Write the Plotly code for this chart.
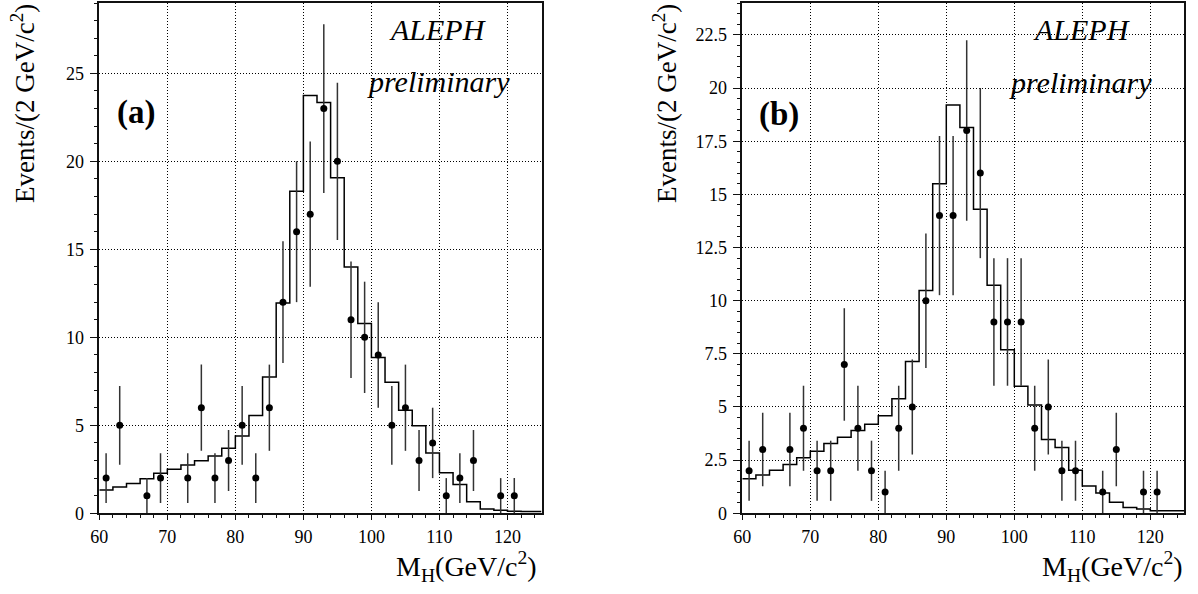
import numpy as np
import plotly.graph_objects as go

W, H = 1198, 594

# ---------------- data ----------------
bin_edges = [60, 62, 64, 66, 68, 70, 72, 74, 76, 78, 80, 82, 84, 86, 88, 90, 92, 94,
             96, 98, 100, 102, 104, 106, 108, 110, 112, 114, 116, 118, 120, 122, 124, 125]

mc_a = [1.32, 1.49, 1.70, 1.97, 2.27, 2.51, 2.74, 2.99, 3.25, 3.69, 4.39, 5.56, 7.75,
        11.95, 18.3, 23.75, 23.35, 19.07, 13.99, 10.78, 8.85, 7.45, 5.86, 4.97, 3.42,
        2.31, 1.64, 0.66, 0.25, 0.17, 0.11, 0.10, 0.10]

mc_b = [1.63, 1.80, 2.03, 2.30, 2.61, 2.92, 3.28, 3.58, 3.89, 4.19, 4.59, 5.39, 7.14,
        10.48, 15.5, 19.2, 18.14, 14.3, 10.72, 7.69, 5.97, 5.09, 3.47, 3.09, 2.02,
        1.28, 0.95, 0.52, 0.27, 0.20, 0.125, 0.125, 0.125]

data_centers = [61, 63, 65, 67, 69, 71, 73, 75, 77, 79, 81, 83, 85, 87, 89, 91, 93, 95,
                97, 99, 101, 103, 105, 107, 109, 111, 113, 115, 117, 119, 121]

data_a = [2, 5, 0, 1, 2, 0, 2, 6, 2, 3, 5, 2, 6, 12, 16, 17, 23, 20,
          11, 10, 9, 5, 6, 3, 4, 1, 2, 3, 0, 1, 1]

data_b = [2, 3, 0, 3, 4, 2, 2, 7, 4, 2, 1, 4, 5, 10, 14, 14, 18, 16,
          9, 9, 9, 4, 5, 2, 2, 0, 1, 3, 0, 1, 1]

# ---------------- helpers ----------------
def px(x):
    return x / W

def py(y):
    return 1 - y / H

SERIF = "Liberation Serif"
AXC = "#111111"

fig = go.Figure()

def add_panel(mc, counts, xa, ya):
    xs = list(bin_edges)
    ys = list(mc) + [mc[-1]]
    fig.add_trace(go.Scatter(x=xs, y=ys, mode="lines", line=dict(shape="hv", color="black", width=1.5),
                             xaxis=xa, yaxis=ya, showlegend=False, hoverinfo="skip"))
    cx = [c for c, n in zip(data_centers, counts) if n > 0]
    cy = [n for n in counts if n > 0]
    err = list(np.sqrt(cy))
    fig.add_trace(go.Scatter(x=cx, y=cy, mode="markers",
                             marker=dict(color="black", size=7),
                             error_y=dict(type="data", array=err, visible=True, width=0,
                                          thickness=1.5, color="#333333"),
                             xaxis=xa, yaxis=ya, showlegend=False))

add_panel(mc_a, data_a, "x", "y")
add_panel(mc_b, data_b, "x2", "y2")

top = 3
bottom = 513.3

def xaxis_cfg(l, r):
    return dict(domain=[px(l), px(r)], range=[60, 125], tickmode="linear", tick0=60, dtick=10,
                ticks="outside", ticklen=5, tickwidth=1.2, tickcolor=AXC,
                minor=dict(dtick=2, ticks="outside", ticklen=3, tickwidth=1, tickcolor=AXC, showgrid=False),
                showgrid=True, gridcolor="black", griddash="1px,2px", gridwidth=1,
                showline=True, linecolor=AXC, linewidth=1.5, mirror=True, zeroline=False,
                automargin=False,
                tickfont=dict(family=SERIF, size=18, color="black"), ticklabelstandoff=1)

def yaxis_cfg(ymax, dt, mdt, anchor):
    return dict(domain=[py(bottom), py(top)], range=[0, ymax], tickmode="linear", tick0=0, dtick=dt,
                ticks="outside", ticklen=8, tickwidth=1.2, tickcolor=AXC,
                minor=dict(dtick=mdt, ticks="outside", ticklen=4, tickwidth=1, tickcolor=AXC, showgrid=False),
                showgrid=True, gridcolor="black", griddash="1px,2px", gridwidth=1,
                showline=True, linecolor=AXC, linewidth=1.5, mirror=True, zeroline=False,
                automargin=False,
                tickfont=dict(family=SERIF, size=18, color="black"), anchor=anchor,
                ticklabelstandoff=2)

fig.update_layout(
    width=W, height=H, autosize=False,
    margin=dict(l=0, r=0, t=0, b=0, pad=0, autoexpand=False),
    paper_bgcolor="white", plot_bgcolor="white",
    font=dict(family=SERIF, color="black"),
    showlegend=False,
    xaxis=dict(xaxis_cfg(99.3, 541.5), anchor="y"),
    yaxis=yaxis_cfg(29, 5, 1, "x"),
    xaxis2=dict(xaxis_cfg(742.3, 1184.3), anchor="y2"),
    yaxis2=yaxis_cfg(24, 2.5, 0.5, "x2"),
)

ann = []
def text(x, y, t, size, xanchor="center", yanchor="middle", angle=0):
    ann.append(dict(x=px(x), y=py(y), xref="paper", yref="paper", text=t, showarrow=False,
                    xanchor=xanchor, yanchor=yanchor, textangle=angle,
                    font=dict(family=SERIF, size=size, color="black")))

# panel a
text(438, 30, "<i>ALEPH</i>", 30)
text(438, 81, "<i>preliminary</i>", 30)
text(136, 113, "<b>(a)</b>", 33)
text(23, 104, "Events/(2 GeV/c<sup>2</sup>)", 27, angle=-90)
text(539, 566, "M<sub>H</sub>(GeV/c<sup>2</sup>)", 28, xanchor="right")
# panel b
text(1082, 30, "<i>ALEPH</i>", 30)
text(1080, 82, "<i>preliminary</i>", 30)
text(779, 114, "<b>(b)</b>", 33)
text(665, 104, "Events/(2 GeV/c<sup>2</sup>)", 27, angle=-90)
text(1185, 566, "M<sub>H</sub>(GeV/c<sup>2</sup>)", 28, xanchor="right")

fig.update_layout(annotations=ann)

fig.write_html("out.html", config={"displayModeBar": False},
               post_script="document.body.style.margin='0';document.body.style.overflow='hidden';")
